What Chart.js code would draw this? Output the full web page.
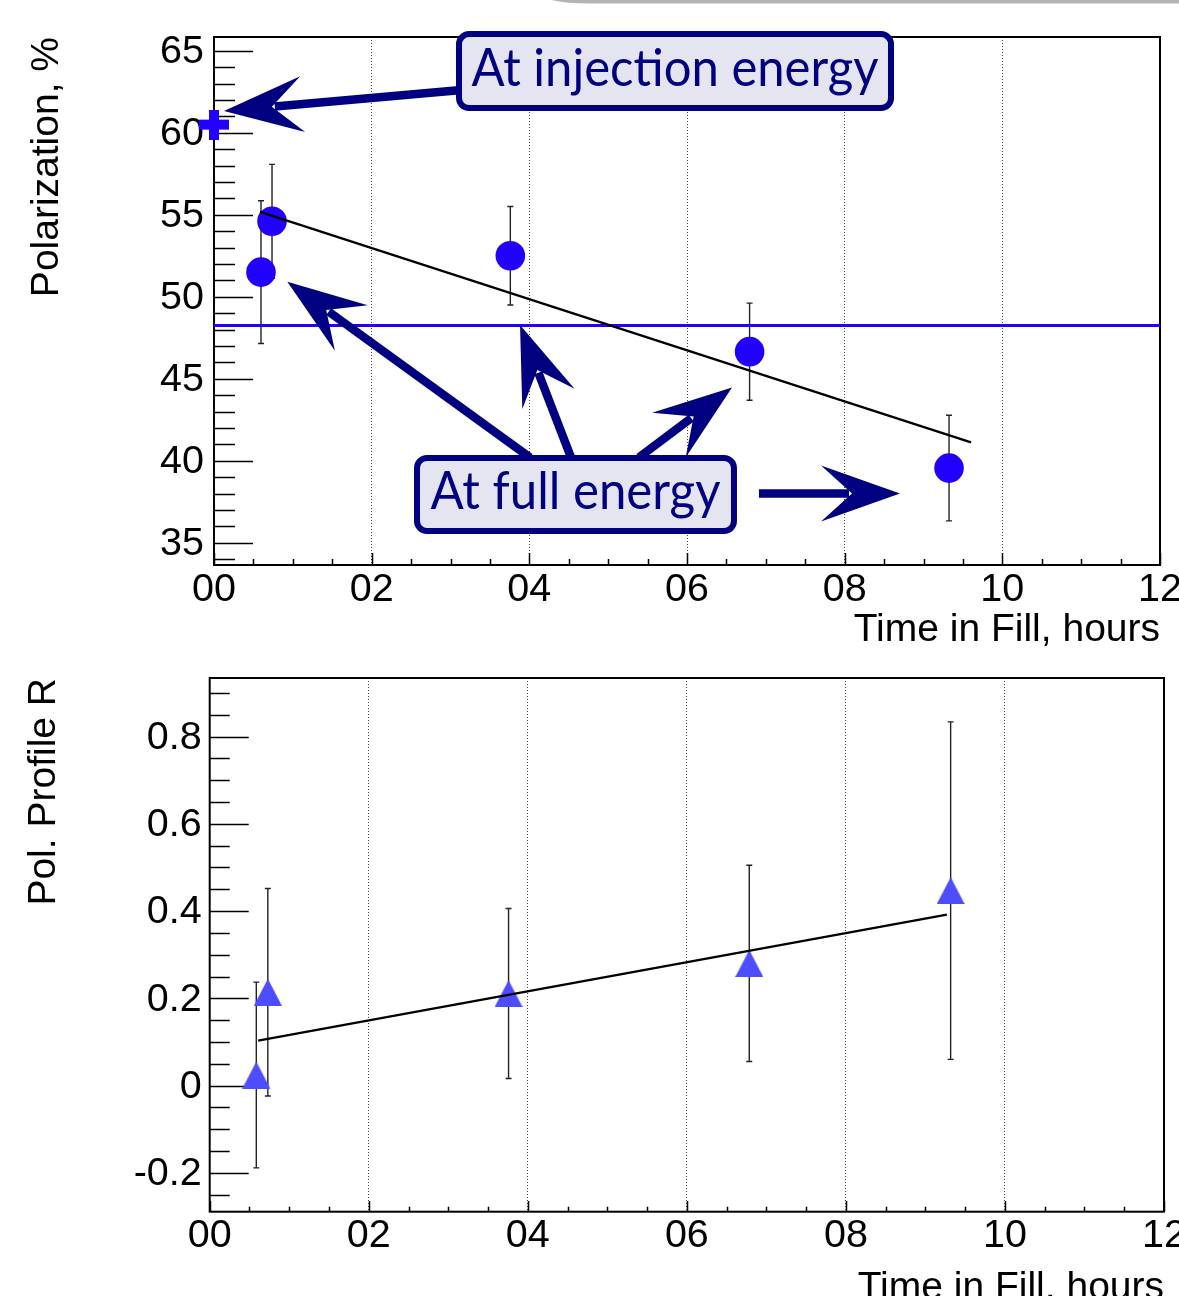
<!DOCTYPE html>
<html><head><meta charset="utf-8">
<script src="https://cdn.jsdelivr.net/npm/chart.js@4/dist/chart.umd.min.js"></script>
<style>
html,body{margin:0;padding:0;background:#fff;overflow:hidden;width:1179px;height:1296px;position:relative;}
#top{position:absolute;left:0;top:0;width:1179px;height:660px;}
#bot{position:absolute;left:0;top:660px;width:1179px;height:660px;}
</style></head><body>
<div id="top"><canvas id="c1" width="1179" height="660"></canvas></div>
<div id="bot"><canvas id="c2" width="1179" height="660"></canvas></div>
<script>
// ---------- data ----------
const xTickHours  = [0, 2, 4, 6, 8, 10, 12];
const xTickLabels = ['00', '02', '04', '06', '08', '10', '12'];

// upper panel: polarization (%)
const polTimeH   = [0.596, 0.736, 3.759, 6.794, 9.324];
const polValue   = [51.5, 54.6, 52.5, 46.65, 39.55];
const polError   = [4.35, 3.47, 3.0, 2.96, 3.22];
const injTimeH   = [0.0];
const injValue   = [60.5];
const polFitTimeH  = [0.584, 9.603];
const polFitValue  = [55.18, 41.12];
const fullMeanTimeH = [0, 12];
const fullMeanValue = [48.25, 48.25];
const polYTicks  = [35, 40, 45, 50, 55, 60, 65];

// lower panel: polarization profile R
const rTimeH   = [0.586, 0.731, 3.758, 6.785, 9.317];
const rValue   = [0.024, 0.214, 0.211, 0.280, 0.447];
const rError   = [0.213, 0.238, 0.195, 0.225, 0.387];
const rFitTimeH = [0.61, 9.27];
const rFitValue = [0.103, 0.392];
const rYTicks  = [-0.2, 0, 0.2, 0.4, 0.6, 0.8];

// annotations of the upper panel (data coordinates)
const annoBoxes = [
  {text: 'At injection energy', h0: 3.070, h1: 8.626, v0: 66.20, v1: 61.32, textWidth: 407},
  {text: 'At full energy',      h0: 2.537, h1: 6.634, v0: 40.35, v1: 35.53, textWidth: 290}
];
const annoArrows = [ // tail hour, tail value, tip hour, tip value
  [3.247, 62.66, 0.127, 61.32],
  [4.009, 40.2, 0.930, 50.915],
  [4.529, 40.2, 3.882, 48.27],
  [5.391, 40.2, 6.571, 44.46],
  [6.913, 38.0, 8.702, 38.0]
];

// ---------- helpers ----------
const zip = (xs, ys) => xs.map((x, i) => ({x: x, y: ys[i]}));
const FONT = "'Liberation Sans', Arial, Helvetica, sans-serif";
const NAVY = '#000080';
const BLUE = '#2200ff';
const TRI_BLUE = '#4d4dff';

const crossImg = (() => {
  const c = document.createElement('canvas'); c.width = 30; c.height = 30;
  const g = c.getContext('2d'); g.fillStyle = BLUE;
  g.fillRect(0, 10, 30, 10); g.fillRect(10, 0, 10, 30);
  return c;
})();
const triImg = (() => {
  const c = document.createElement('canvas'); c.width = 28; c.height = 27;
  const g = c.getContext('2d'); g.fillStyle = TRI_BLUE;
  g.beginPath(); g.moveTo(14, 0); g.lineTo(28, 27); g.lineTo(0, 27); g.closePath(); g.fill();
  return c;
})();

const frameTicksPlugin = {
  id: 'frameTicks',
  beforeDraw(chart, args, o) {
    const s = chart.scales.y;
    if (s && !s._shiftPatched && typeof s._computeLabelItems === 'function') {
      const orig = s._computeLabelItems;
      s._computeLabelItems = function (ca) {
        const items = orig.call(this, ca);
        try {
          items.forEach(it => { if (it.options && it.options.translation) it.options.translation[1] += (o.yLabelShift || 0); });
        } catch (e) {}
        return items;
      };
      s._shiftPatched = true;
      s._labelItems = null;
    }
  },
  beforeDatasetsDraw(chart, args, o) {
    const {ctx, chartArea: a} = chart;
    const xs = chart.scales.x, ys = chart.scales.y;
    ctx.save();
    ctx.strokeStyle = '#000';
    ctx.lineWidth = 1.5;
    ctx.beginPath();
    const yStart = Math.ceil((ys.min - 1e-9) / o.yMinor) * o.yMinor;
    for (let v = yStart; v <= ys.max + 1e-9; v += o.yMinor) {
      const vv = Math.round(v / o.yMinor) * o.yMinor;
      const isMajor = Math.abs(vv / o.yMajor - Math.round(vv / o.yMajor)) < 1e-6;
      const py = Math.round(ys.getPixelForValue(vv)) + 0.5;
      const len = isMajor ? o.yMajorLen : o.yMinorLen;
      ctx.moveTo(a.left, py); ctx.lineTo(a.left + len, py);
    }
    for (let h = xs.min; h <= xs.max + 1e-9; h += o.xMinor) {
      const isMajor = Math.abs(h / o.xMajor - Math.round(h / o.xMajor)) < 1e-6;
      const px = Math.round(xs.getPixelForValue(h)) + 0.5;
      const len = isMajor ? o.xMajorLen : o.xMinorLen;
      ctx.moveTo(px, a.bottom); ctx.lineTo(px, a.bottom - len);
    }
    ctx.stroke();
    ctx.lineWidth = 2;
    ctx.strokeRect(a.left, a.top, a.right - a.left, a.bottom - a.top);
    ctx.strokeStyle = '#222';
    ctx.lineWidth = 1.4;
    chart.data.datasets.forEach((ds, i) => {
      if (!ds.errors) return;
      const meta = chart.getDatasetMeta(i);
      ds.data.forEach((p, j) => {
        const x = meta.data[j].x;
        const y1 = ys.getPixelForValue(p.y + ds.errors[j]);
        const y2 = ys.getPixelForValue(p.y - ds.errors[j]);
        ctx.beginPath();
        ctx.moveTo(x, y1); ctx.lineTo(x, y2);
        ctx.moveTo(x - 3, y1); ctx.lineTo(x + 3, y1);
        ctx.moveTo(x - 3, y2); ctx.lineTo(x + 3, y2);
        ctx.stroke();
      });
    });
    ctx.restore();
  }
};

const annotationPlugin = {
  id: 'annos',
  afterDraw(chart, args, o) {
    if (!o.enabled) return;
    const {ctx} = chart;
    const xs = chart.scales.x, ys = chart.scales.y;
    ctx.save();
    ctx.fillStyle = '#b3b3b3';
    ctx.beginPath();
    ctx.moveTo(551, 0);
    ctx.quadraticCurveTo(566, 3.6, 592, 3.6);
    ctx.lineTo(1179, 3.6); ctx.lineTo(1179, 0); ctx.closePath(); ctx.fill();

    ctx.fillStyle = NAVY; ctx.strokeStyle = NAVY;
    annoArrows.forEach(([th, tv, hh, hv]) => {
      const x0 = xs.getPixelForValue(th), y0 = ys.getPixelForValue(tv);
      const x1 = xs.getPixelForValue(hh), y1 = ys.getPixelForValue(hv);
      const dx = x1 - x0, dy = y1 - y0, len = Math.hypot(dx, dy);
      const ux = dx / len, uy = dy / len, nx = -uy, ny = ux;
      const L = 79, W = 28, N = 48;
      ctx.lineWidth = 8.5; ctx.lineCap = 'butt';
      ctx.beginPath(); ctx.moveTo(x0, y0); ctx.lineTo(x1 - ux * (N + 3), y1 - uy * (N + 3)); ctx.stroke();
      ctx.beginPath();
      ctx.moveTo(x1, y1);
      ctx.lineTo(x1 - ux * L + nx * W, y1 - uy * L + ny * W);
      ctx.lineTo(x1 - ux * N, y1 - uy * N);
      ctx.lineTo(x1 - ux * L - nx * W, y1 - uy * L - ny * W);
      ctx.closePath(); ctx.fill();
    });
    annoBoxes.forEach(b => {
      const xa = xs.getPixelForValue(b.h0), xb = xs.getPixelForValue(b.h1);
      const ya = ys.getPixelForValue(b.v0), yb = ys.getPixelForValue(b.v1);
      ctx.beginPath();
      ctx.roundRect(xa + 3, ya + 3, xb - xa - 6, yb - ya - 6, 10);
      ctx.fillStyle = '#e5e5f1'; ctx.fill();
      ctx.lineWidth = 6; ctx.strokeStyle = NAVY; ctx.stroke();
      ctx.fillStyle = NAVY;
      ctx.font = "53px Lato, 'DejaVu Sans', sans-serif";
      ctx.textAlign = 'center'; ctx.textBaseline = 'alphabetic';
      ctx.fillText(b.text, (xa + xb) / 2, (ya + yb) / 2 + 15, b.textWidth);
    });
    ctx.restore();
  }
};

function makeScales(cfg) {
  return {
    x: {
      type: 'linear', min: 0, max: 12,
      afterBuildTicks: s => { s.ticks = xTickHours.map(v => ({value: v})); },
      afterFit: s => { s.height = cfg.xHeight; s.paddingLeft = 0; s.paddingRight = 0; },
      grid: {
        drawTicks: false, lineWidth: 1,
        color: c => (c.tick && (c.tick.value === 0 || c.tick.value === 12)) ? 'rgba(0,0,0,0)' : '#444'
      },
      border: {display: false, dash: [1, 2]},
      ticks: {
        padding: 1, color: '#000', maxRotation: 0, autoSkip: false,
        font: {family: FONT, size: 39.5, lineHeight: 1.2},
        callback: v => { const i = xTickHours.indexOf(v); return i >= 0 ? xTickLabels[i] : ''; }
      },
      title: {
        display: true, text: 'Time in Fill, hours', align: 'end', color: '#000',
        font: {family: FONT, size: 39, lineHeight: 1}, padding: {top: 0, bottom: cfg.xTitlePad}
      }
    },
    y: {
      type: 'linear', min: cfg.yMin, max: cfg.yMax,
      afterBuildTicks: s => { s.ticks = cfg.yTicks.map(v => ({value: v})); },
      afterFit: s => { s.width = cfg.yWidth; s.paddingTop = 0; s.paddingBottom = 0; },
      grid: {display: false, drawTicks: false},
      border: {display: false},
      ticks: {
        padding: cfg.yLabelPad, color: '#000', autoSkip: false,
        font: {family: FONT, size: 39.5, lineHeight: 1.2},
        callback: cfg.yFmt
      },
      title: {
        display: true, text: cfg.yTitle, align: 'end', color: '#000',
        font: {family: FONT, size: 39, lineHeight: 1}, padding: {top: cfg.yTitlePad, bottom: 0}
      }
    }
  };
}

const common = {
  responsive: false, animation: false, events: [], devicePixelRatio: 1,
  plugins: {legend: {display: false}, tooltip: {enabled: false}}
};

new Chart(document.getElementById('c1'), {
  type: 'scatter',
  data: {
    datasets: [
      {label: 'Linear fit', data: zip(polFitTimeH, polFitValue), showLine: true, borderColor: '#000',
       borderWidth: 2.3, pointRadius: 0, order: 0},
      {label: 'At full energy', data: zip(polTimeH, polValue), errors: polError, showLine: false,
       pointStyle: 'circle', pointRadius: 14.8, backgroundColor: BLUE, borderWidth: 0, order: 1, clip: false},
      {label: 'At injection energy', data: zip(injTimeH, injValue), showLine: false,
       pointStyle: crossImg, pointRadius: 15, order: 1, clip: false},
      {label: 'Mean at full energy', data: zip(fullMeanTimeH, fullMeanValue), showLine: true,
       borderColor: BLUE, borderWidth: 3, pointRadius: 0, order: 2}
    ]
  },
  options: Object.assign({}, common, {
    layout: {padding: {left: 0, right: 19, top: 37, bottom: 0}},
    scales: makeScales({
      xHeight: 95, xTitlePad: 10.5, yMin: 33.64, yMax: 65.84, yTicks: polYTicks,
      yWidth: 214, yLabelPad: 10, yTitle: 'Polarization, %', yTitlePad: 28,
      yFmt: v => String(v)
    }),
    plugins: Object.assign({}, common.plugins, {
      frameTicks: {xMinor: 0.5, xMajor: 2, xMajorLen: 12, xMinorLen: 6, yMinor: 1, yMajor: 5, yMajorLen: 39, yMinorLen: 21, yLabelShift: 1.5},
      annos: {enabled: true}
    })
  }),
  plugins: [frameTicksPlugin, annotationPlugin]
});

new Chart(document.getElementById('c2'), {
  type: 'scatter',
  data: {
    datasets: [
      {label: 'Linear fit', data: zip(rFitTimeH, rFitValue), showLine: true, borderColor: '#000',
       borderWidth: 2.3, pointRadius: 0, order: 0},
      {label: 'Pol. Profile R', data: zip(rTimeH, rValue), errors: rError, showLine: false,
       pointStyle: triImg, pointRadius: 14, order: 1, clip: false}
    ]
  },
  options: Object.assign({}, common, {
    layout: {padding: {left: 0, right: 12.5, top: 18, bottom: 0}},
    scales: makeScales({
      xHeight: 108.3, xTitlePad: 12.3, yMin: -0.2894, yMax: 0.9346, yTicks: rYTicks,
      yWidth: 209.7, yLabelPad: 8, yTitle: 'Pol. Profile R', yTitlePad: 25,
      yFmt: v => Math.abs(v) < 1e-9 ? '0' : String(+v.toFixed(1))
    }),
    plugins: Object.assign({}, common.plugins, {
      frameTicks: {xMinor: 0.5, xMajor: 2, xMajorLen: 10.7, xMinorLen: 5, yMinor: 0.05, yMajor: 0.2, yMajorLen: 39, yMinorLen: 20, yLabelShift: 1.5},
      annos: {enabled: false}
    })
  }),
  plugins: [frameTicksPlugin, annotationPlugin]
});
</script>
</body></html>
